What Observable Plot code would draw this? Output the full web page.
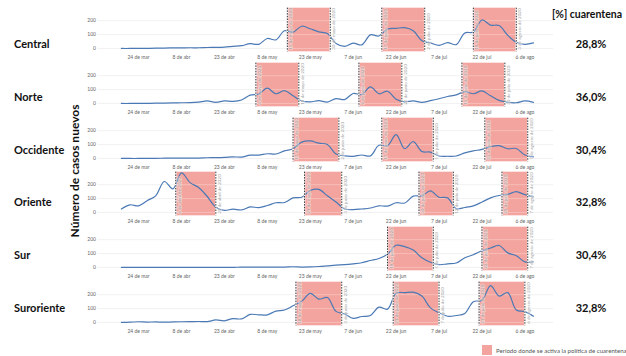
<!DOCTYPE html>
<html lang="es">
<head>
<meta charset="utf-8">
<script src="https://cdn.jsdelivr.net/npm/d3@7"></script>
<script src="https://cdn.jsdelivr.net/npm/@observablehq/plot@0.6"></script>
<style>
  html, body { margin: 0; padding: 0; background: #fff; }
  #chart { position: relative; width: 626px; height: 356px; overflow: hidden; font-family: Lato, "Open Sans", sans-serif; }
  .panel { position: absolute; left: 0; }
  .panel svg { overflow: visible; display: block; }
  .region { position: absolute; left: 14px; font-weight: 700; font-size: 11px; color: #111; transform: translateY(-50%); white-space: nowrap; }
  .share { position: absolute; left: 591px; font-weight: 700; font-size: 11px; color: #111; transform: translate(-50%, -50%); white-space: nowrap; }
  #shareTitle { position: absolute; left: 552px; top: 14px; font-weight: 700; font-size: 10.5px; color: #111; transform: translateY(-50%); white-space: nowrap; }
  #yTitle { position: absolute; left: 74px; top: 171px; font-weight: 700; font-size: 12px; color: #111; transform: translate(-50%, -50%) rotate(-90deg); white-space: nowrap; }
  #legend { position: absolute; left: 482px; top: 345px; display: flex; align-items: center; white-space: nowrap; }
  #legend .swatch { width: 10px; height: 10px; background: #f4a49e; margin-right: 4px; }
  #legend span { font-size: 6.1px; color: #555; }
</style>
</head>
<body>
<div id="chart">
  <div id="shareTitle">[%] cuarentena</div>
  <div id="yTitle">Número de casos nuevos</div>
  <div id="legend"><div class="swatch"></div><span>Período donde se activa la política de cuarentena</span></div>
</div>
<script>
// Regions and the share of days under quarantine
const regions = ["Central", "Norte", "Occidente", "Oriente", "Sur", "Suroriente"];
const quarantineShares = ["28,8%", "36,0%", "30,4%", "32,8%", "30,4%", "32,8%"];

// Daily new cases (smoothed), one value every 3 days starting 18 March 2020
const seriesStart = "2020-03-18";
const stepDays = 3;
const centralCases = [0,0,1,1,2,3,4,4,5,5, 7,8,10,15,20,35,30,72,62,128, 118,160,142,120,108,36,15,38,26,98, 90,140,145,150,128,55,40,22,42,28, 112,118,205,168,165,95,45,30,40];
const norteCases = [0,0,1,1,2,3,4,5,6,10, 18,8,18,15,25,60,68,110,70,92, 55,18,12,20,10,35,28,72,65,120, 70,88,30,12,18,8,20,34,50,62, 85,70,90,55,22,8,5,18,8];
const occidenteCases = [0,0,0,1,1,2,2,2,3,3, 5,6,8,12,10,24,24,34,32,55, 70,118,126,110,100,32,18,15,25,18, 95,92,172,70,122,50,46,18,16,18, 40,55,65,85,92,70,72,25,12];
const orienteCases = [25,55,48,85,120,223,170,285,215,180, 115,38,15,24,18,40,35,50,70,72, 105,110,158,166,120,75,25,20,25,32, 48,46,70,68,118,120,155,110,105,28, 36,48,75,105,122,130,150,128,112];
const surCases = [0,0,0,0,0,0,0,1,0,1, 1,1,1,1,2,2,2,3,3,3, 5,3,4,7,12,17,20,26,34,50, 65,95,160,150,125,70,38,20,26,32, 70,92,120,140,158,105,85,40,40];
const surorienteCases = [0,2,5,3,4,2,4,5,6,7, 6,18,12,28,26,58,55,55,82,90, 120,152,210,168,180,80,62,30,43,50, 110,96,210,215,218,190,105,70,45,50, 65,150,160,265,190,215,90,78,45];

// Quarantine periods [start, end] for each region
const centralPeriods = [["2020-05-15", "2020-05-30"], ["2020-06-17", "2020-07-02"], ["2020-07-19", "2020-08-03"]];
const nortePeriods = [["2020-05-04", "2020-05-19"], ["2020-06-09", "2020-06-24"], ["2020-07-15", "2020-07-30"]];
const occidentePeriods = [["2020-05-17", "2020-06-02"], ["2020-06-17", "2020-07-05"], ["2020-07-23", "2020-08-07"]];
const orientePeriods = [["2020-04-06", "2020-04-20"], ["2020-05-21", "2020-06-03"], ["2020-06-30", "2020-07-12"], ["2020-07-29", "2020-08-07"]];
const surPeriods = [["2020-06-19", "2020-07-05"], ["2020-07-22", "2020-08-07"]];
const surorientePeriods = [["2020-05-18", "2020-06-03"], ["2020-06-21", "2020-07-07"], ["2020-07-21", "2020-08-06"]];

// Time axis ticks
const tickDates = ["2020-03-24", "2020-04-08", "2020-04-23", "2020-05-08", "2020-05-23", "2020-06-07", "2020-06-22", "2020-07-07", "2020-07-22", "2020-08-06"];
const tickLabels = ["24 de mar", "8 de abr", "23 de abr", "8 de may", "23 de may", "7 de jun", "22 de jun", "7 de jul", "22 de jul", "6 de ago"];
const monthNames = ["enero", "febrero", "marzo", "abril", "mayo", "junio", "julio", "agosto", "septiembre", "octubre", "noviembre", "diciembre"];

const allCases = [centralCases, norteCases, occidenteCases, orienteCases, surCases, surorienteCases];
const allPeriods = [centralPeriods, nortePeriods, occidentePeriods, orientePeriods, surPeriods, surorientePeriods];

const DAY = 864e5;
const utc = s => new Date(s + "T00:00:00Z");
const startDate = utc(seriesStart);
const tickMap = new Map(tickDates.map((d, i) => [+utc(d), tickLabels[i]]));
const longDate = d => `${d.getUTCDate()} de ${monthNames[d.getUTCMonth()]} de ${d.getUTCFullYear()}`;

const chart = document.getElementById("chart");
const panelStep = 54.8;

regions.forEach((region, i) => {
  const rows = allCases[i].map((v, k) => ({date: new Date(+startDate + k * stepDays * DAY), cases: v}));
  const periods = allPeriods[i].map(([a, b]) => ({start: utc(a), end: utc(b)}));
  const edges = periods.flatMap(p => [p.start, p.end]);

  const svg = Plot.plot({
    width: 626,
    height: 62,
    marginLeft: 98,
    marginRight: 73,
    marginTop: 7.7,
    marginBottom: 10.7,
    style: {fontFamily: "Lato, sans-serif", fontSize: "5px", color: "#666", background: "transparent"},
    x: {
      type: "utc",
      domain: [utc("2020-03-10"), utc("2020-08-16")],
      ticks: tickDates.map(utc),
      tickFormat: d => tickMap.get(+d),
      tickSize: 0,
      tickPadding: 3.5,
      label: null
    },
    y: {domain: [-24, 290], ticks: [0, 100, 200], tickSize: 0, tickPadding: 2.5, label: null},
    marks: [
      Plot.ruleY([0, 100, 200], {stroke: "#e9e9e9", strokeWidth: 0.8}),
      Plot.rect(periods, {x1: "start", x2: "end", fill: "#f4a49e"}),
      Plot.ruleY([0, 100, 200], {stroke: "#fff", strokeOpacity: 0.35, strokeWidth: 0.8}),
      Plot.line(rows, {x: "date", y: "cases", stroke: "#4a79b5", strokeWidth: 1.2, curve: "catmull-rom"}),
      Plot.ruleX(edges, {stroke: "#fff", strokeWidth: 1.6}),
      Plot.ruleX(edges, {stroke: "#333", strokeWidth: 1, strokeDasharray: "1.5,1.2"}),
      Plot.text(edges, {
        x: d => d,
        text: longDate,
        rotate: -90,
        frameAnchor: "bottom",
        textAnchor: "start",
        lineAnchor: "middle",
        dx: 3.6,
        dy: -2,
        fontSize: 4.6,
        fill: "#a0a0a0",
        stroke: "#fff",
        strokeOpacity: 0.35,
        strokeWidth: 2
      })
    ]
  });

  const panel = document.createElement("div");
  panel.className = "panel";
  panel.style.top = (i * panelStep) + "px";
  panel.appendChild(svg);
  chart.appendChild(panel);

  const name = document.createElement("div");
  name.className = "region";
  name.style.top = (42.7 + i * 52.9) + "px";
  name.textContent = region;
  chart.appendChild(name);

  const share = document.createElement("div");
  share.className = "share";
  share.style.top = (42.7 + i * 52.9) + "px";
  share.textContent = quarantineShares[i];
  chart.appendChild(share);
});
</script>
</body>
</html>
